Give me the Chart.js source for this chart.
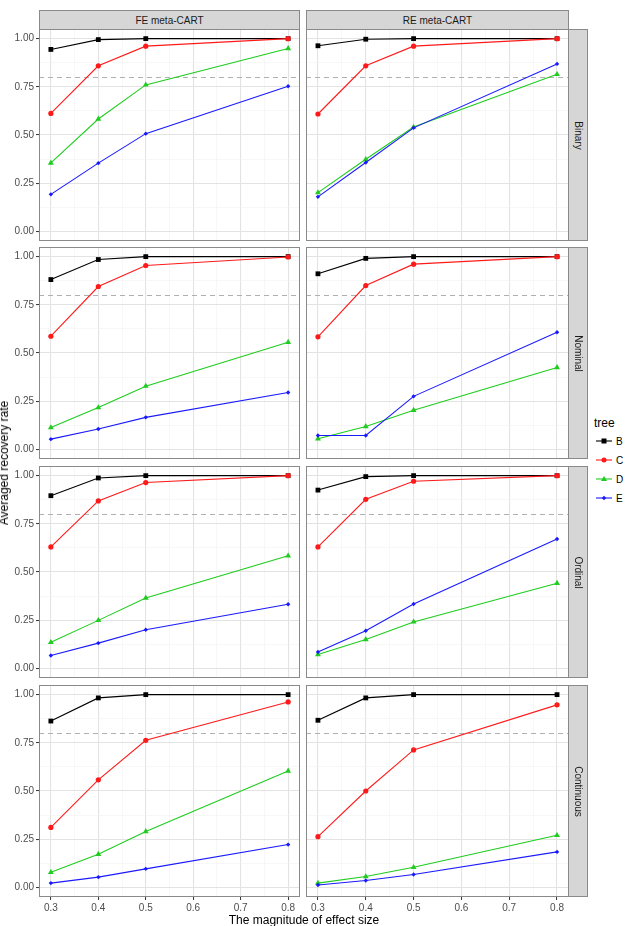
<!DOCTYPE html>
<html>
<head>
<meta charset="utf-8">
<script src="https://cdn.jsdelivr.net/npm/chart.js@4.4.1/dist/chart.umd.min.js"></script>
<style>
  html, body { margin:0; padding:0; background:#fff; }
  body { width:626px; height:926px; position:relative; overflow:hidden; font-family:"Liberation Sans", Arial, sans-serif; }
  .cv { position:absolute; }
  .strip { position:absolute; background:#d6d6d6; border:1px solid #8a8a8a; box-sizing:border-box; color:#1a1a1a; font-size:10px; display:flex; align-items:center; justify-content:center; }
  .strip.right span { transform:rotate(90deg); white-space:nowrap; display:block; }
  .title { position:absolute; color:#000; font-size:12px; white-space:nowrap; }
  .leg { position:absolute; font-size:10px; color:#000; display:flex; align-items:center; }
</style>
</head>
<body>
<script>
// ---------- data ----------
const effectSizes = [0.3, 0.4, 0.5, 0.8];
const trees = ['B', 'C', 'D', 'E'];
const methods = ['FE meta-CART', 'RE meta-CART'];
const predictorTypes = ['Binary', 'Nominal', 'Ordinal', 'Continuous'];
const xMajorTicks = [0.3, 0.4, 0.5, 0.6, 0.7, 0.8];
const xMinorTicks = [0.35, 0.45, 0.55, 0.65, 0.75];
const yMajorTicks = [0, 0.25, 0.5, 0.75, 1];
const yMinorTicks = [0.125, 0.375, 0.625, 0.875];
const threshold = 0.8;

// FE meta-CART
const feBinaryB = [0.944, 0.995, 1.000, 1.000];
const feBinaryC = [0.612, 0.859, 0.961, 1.000];
const feBinaryD = [0.355, 0.583, 0.760, 0.949];
const feBinaryE = [0.192, 0.354, 0.507, 0.753];
const feNominalB = [0.881, 0.985, 1.000, 1.000];
const feNominalC = [0.587, 0.845, 0.954, 0.998];
const feNominalD = [0.113, 0.217, 0.328, 0.556];
const feNominalE = [0.053, 0.106, 0.166, 0.295];
const feOrdinalB = [0.896, 0.988, 1.000, 1.000];
const feOrdinalC = [0.630, 0.869, 0.964, 1.000];
const feOrdinalD = [0.135, 0.249, 0.365, 0.584];
const feOrdinalE = [0.067, 0.131, 0.200, 0.333];
const feContinuousB = [0.863, 0.983, 1.000, 1.000];
const feContinuousC = [0.311, 0.558, 0.763, 0.962];
const feContinuousD = [0.078, 0.172, 0.290, 0.604];
const feContinuousE = [0.022, 0.053, 0.096, 0.222];
// RE meta-CART
const reBinaryB = [0.963, 0.997, 1.000, 1.000];
const reBinaryC = [0.609, 0.859, 0.961, 1.000];
const reBinaryD = [0.201, 0.374, 0.541, 0.815];
const reBinaryE = [0.179, 0.357, 0.537, 0.869];
const reNominalB = [0.911, 0.991, 1.000, 1.000];
const reNominalC = [0.584, 0.850, 0.961, 1.000];
const reNominalD = [0.055, 0.119, 0.203, 0.425];
const reNominalE = [0.072, 0.072, 0.275, 0.608];
const reOrdinalB = [0.925, 0.995, 1.000, 1.000];
const reOrdinalC = [0.630, 0.877, 0.971, 1.000];
const reOrdinalD = [0.072, 0.150, 0.241, 0.442];
const reOrdinalE = [0.085, 0.195, 0.334, 0.671];
const reContinuousB = [0.867, 0.983, 1.000, 1.000];
const reContinuousC = [0.263, 0.500, 0.713, 0.947];
const reContinuousD = [0.022, 0.056, 0.104, 0.270];
const reContinuousE = [0.012, 0.036, 0.067, 0.184];

const panelData = [
  [[feBinaryB, feBinaryC, feBinaryD, feBinaryE], [reBinaryB, reBinaryC, reBinaryD, reBinaryE]],
  [[feNominalB, feNominalC, feNominalD, feNominalE], [reNominalB, reNominalC, reNominalD, reNominalE]],
  [[feOrdinalB, feOrdinalC, feOrdinalD, feOrdinalE], [reOrdinalB, reOrdinalC, reOrdinalD, reOrdinalE]],
  [[feContinuousB, feContinuousC, feContinuousD, feContinuousE], [reContinuousB, reContinuousC, reContinuousD, reContinuousE]]
];

// ---------- styles ----------
const treeColors = ['#000000', '#ff1a1a', '#1fcc1f', '#1a1aff'];
const treeShapes = ['rect', 'circle', 'triangle', 'rectRot'];
const treeRadius = [3.4, 2.6, 3.4, 2.2];

const panelTops = [29, 247, 466, 685];
const panelH = 212;
const colLeft = [39, 306];
const colRight = [300, 569];
const PAD = 2;

function isIn(arr, v) { return arr.some(a => Math.abs(a - v) < 1e-9); }

const panelPlugin = {
  id: 'panelDeco',
  beforeDatasetsDraw(chart) {
    const { ctx, chartArea: a, scales } = chart;
    const py = Math.round(scales.y.getPixelForValue(threshold)) + 0.5;
    ctx.save();
    ctx.strokeStyle = '#b0b0b0';
    ctx.lineWidth = 1;
    ctx.setLineDash([5, 4]);
    ctx.beginPath();
    ctx.moveTo(a.left, py);
    ctx.lineTo(a.right, py);
    ctx.stroke();
    ctx.restore();
  },
  afterDraw(chart) {
    const { ctx, chartArea: a } = chart;
    ctx.save();
    ctx.strokeStyle = '#8a8a8a';
    ctx.lineWidth = 1;
    ctx.strokeRect(Math.round(a.left) + 0.5, Math.round(a.top) + 0.5, Math.round(a.right - a.left) - 1, Math.round(a.bottom - a.top) - 1);
    ctx.restore();
  }
};

function makePanel(r, c) {
  const isBottom = r === predictorTypes.length - 1;
  const isLeft = c === 0;
  const yAxisW = isLeft ? 39 : 0;
  const xAxisH = isBottom ? 17 : 0;
  const left = colLeft[c] - yAxisW - PAD;
  const width = colRight[c] - colLeft[c] + yAxisW + 2 * PAD;
  const top = panelTops[r] - PAD;
  const height = panelH + xAxisH + 2 * PAD;

  const cv = document.createElement('canvas');
  cv.className = 'cv';
  cv.style.left = left + 'px';
  cv.style.top = top + 'px';
  cv.style.width = width + 'px';
  cv.style.height = height + 'px';
  cv.width = width; cv.height = height;
  document.body.appendChild(cv);

  const datasets = trees.map((t, i) => ({
    label: t,
    data: effectSizes.map((x, k) => ({ x: x, y: panelData[r][c][i][k] })),
    borderColor: treeColors[i],
    backgroundColor: treeColors[i],
    borderWidth: 1.1,
    pointStyle: treeShapes[i],
    pointRadius: treeRadius[i],
    pointBorderWidth: 0,
    order: trees.length - i,
    tension: 0
  }));

  const gridColor = (majors) => (ctx) => ctx.tick && isIn(majors, ctx.tick.value) ? '#e3e3e3' : '#f1f1f1';
  const gridWidth = (majors) => (ctx) => ctx.tick && isIn(majors, ctx.tick.value) ? 1.1 : 0.6;
  const tickColor = (majors) => (ctx) => ctx.tick && isIn(majors, ctx.tick.value) ? '#333333' : 'rgba(0,0,0,0)';

  new Chart(cv, {
    type: 'line',
    data: { datasets },
    options: {
      responsive: false,
      animation: false,
      devicePixelRatio: 1,
      layout: { padding: { left: PAD, right: PAD, top: PAD, bottom: PAD }, autoPadding: false },
      plugins: { legend: { display: false }, tooltip: { enabled: false } },
      scales: {
        x: {
          type: 'linear', min: 0.275, max: 0.825,
          afterBuildTicks: (s) => { s.ticks = xMajorTicks.concat(xMinorTicks).sort((a, b) => a - b).map(v => ({ value: v })); },
          afterFit: (s) => { s.height = xAxisH; s.paddingLeft = 0; s.paddingRight = 0; s.paddingTop = 0; s.paddingBottom = 0; },
          border: { display: false },
          grid: { color: gridColor(xMajorTicks), lineWidth: gridWidth(xMajorTicks), drawTicks: isBottom, tickLength: 3, tickColor: tickColor(xMajorTicks), tickWidth: 1 },
          ticks: {
            display: isBottom, autoSkip: false, maxRotation: 0, padding: 2,
            color: '#4d4d4d', font: { family: 'Liberation Sans', size: 10 },
            callback: (v) => isIn(xMajorTicks, v) ? v.toFixed(1) : ''
          }
        },
        y: {
          type: 'linear', min: -0.05, max: 1.05,
          afterBuildTicks: (s) => { s.ticks = yMajorTicks.concat(yMinorTicks).sort((a, b) => a - b).map(v => ({ value: v })); },
          afterFit: (s) => { s.width = yAxisW; s.paddingLeft = 0; s.paddingRight = 0; s.paddingTop = 0; s.paddingBottom = 0; },
          border: { display: false },
          grid: { color: gridColor(yMajorTicks), lineWidth: gridWidth(yMajorTicks), drawTicks: isLeft, tickLength: 3, tickColor: tickColor(yMajorTicks), tickWidth: 1 },
          ticks: {
            display: isLeft, autoSkip: false, padding: 2,
            color: '#4d4d4d', font: { family: 'Liberation Sans', size: 10 },
            callback: (v) => isIn(yMajorTicks, v) ? v.toFixed(2) : ''
          }
        }
      }
    },
    plugins: [panelPlugin]
  });
}

for (let r = 0; r < predictorTypes.length; r++) {
  for (let c = 0; c < methods.length; c++) makePanel(r, c);
}

// top strips
methods.forEach((m, c) => {
  const d = document.createElement('div');
  d.className = 'strip';
  d.style.left = colLeft[c] + 'px';
  d.style.top = '10px';
  d.style.width = (colRight[c] - colLeft[c]) + 'px';
  d.style.height = '20px';
  d.textContent = m;
  document.body.appendChild(d);
});
// right strips
predictorTypes.forEach((p, r) => {
  const d = document.createElement('div');
  d.className = 'strip right';
  d.style.left = (colRight[1] - 1) + 'px';
  d.style.top = panelTops[r] + 'px';
  d.style.width = '20px';
  d.style.height = panelH + 'px';
  const s = document.createElement('span');
  s.textContent = p;
  d.appendChild(s);
  document.body.appendChild(d);
});

// axis titles
const xt = document.createElement('div');
xt.className = 'title';
xt.textContent = 'The magnitude of effect size';
xt.style.left = '0px'; xt.style.width = '608px'; xt.style.textAlign = 'center';
xt.style.top = '913px';
document.body.appendChild(xt);

const yt = document.createElement('div');
yt.className = 'title';
yt.textContent = 'Averaged recovery rate';
yt.style.left = '4px'; yt.style.top = '463px';
yt.style.transform = 'translate(-50%,-50%) rotate(-90deg)';
document.body.appendChild(yt);

// legend
const lt = document.createElement('div');
lt.className = 'title';
lt.textContent = 'tree';
lt.style.left = '594px'; lt.style.top = '416px';
document.body.appendChild(lt);
const legY = [441, 460, 479, 498];
trees.forEach((t, i) => {
  const d = document.createElement('div');
  d.className = 'leg';
  d.style.left = '595px'; d.style.top = (legY[i] - 7) + 'px'; d.style.height = '14px';
  let shape = '';
  const cx = 9, cy = 7, col = treeColors[i];
  if (i === 0) shape = `<rect x="${cx-2.5}" y="${cy-2.5}" width="5" height="5" fill="${col}"/>`;
  if (i === 1) shape = `<circle cx="${cx}" cy="${cy}" r="2.5" fill="${col}"/>`;
  if (i === 2) shape = `<polygon points="${cx},${cy-3} ${cx+3},${cy+2} ${cx-3},${cy+2}" fill="${col}"/>`;
  if (i === 3) shape = `<polygon points="${cx},${cy-2.2} ${cx+2.2},${cy} ${cx},${cy+2.2} ${cx-2.2},${cy}" fill="${col}"/>`;
  d.innerHTML = `<svg width="18" height="14"><line x1="1" y1="7" x2="17" y2="7" stroke="${col}" stroke-width="1.1"/>${shape}</svg><span style="margin-left:3px">${t}</span>`;
  document.body.appendChild(d);
});
</script>
</body>
</html>
